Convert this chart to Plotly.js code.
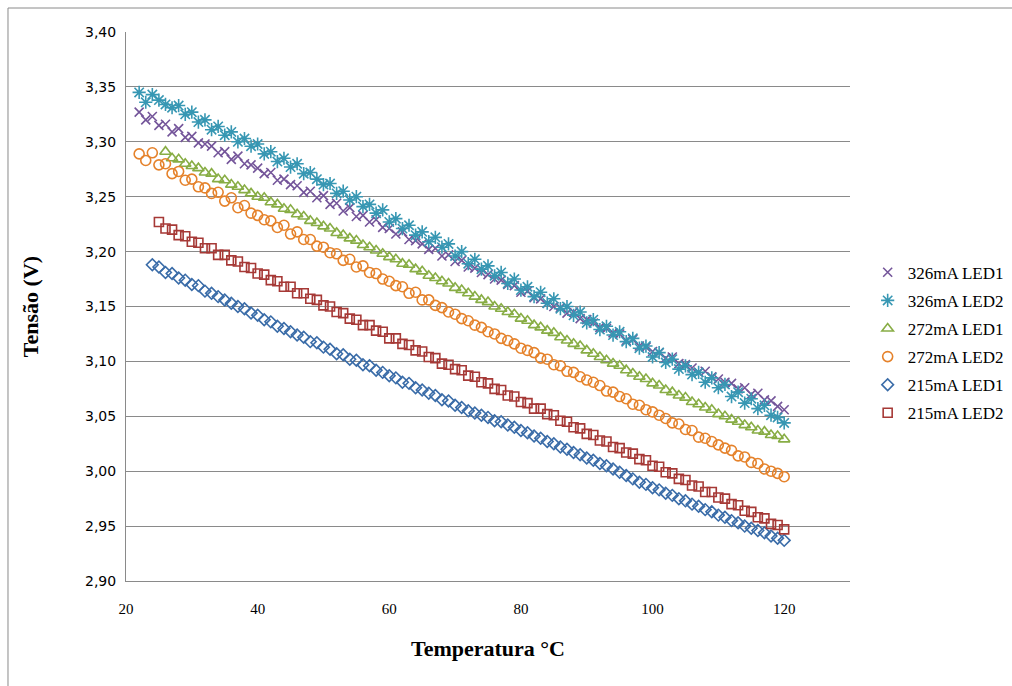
<!DOCTYPE html>
<html>
<head>
<meta charset="utf-8">
<script src="https://cdn.plot.ly/plotly-3.0.1.min.js"></script>
<style>html,body{margin:0;padding:0;background:#fff;}#chart{width:1012px;height:686px;}</style>
</head>
<body>
<div id="chart"></div>
<script>
// Temperature readings (°C)
const temperatura = [22,23,24,25,26,27,28,29,30,31,32,33,34,35,36,37,38,39,40,41,42,43,44,45,46,47,48,49,50,51,52,53,54,55,56,57,58,59,60,61,62,63,64,65,66,67,68,69,70,71,72,73,74,75,76,77,78,79,80,81,82,83,84,85,86,87,88,89,90,91,92,93,94,95,96,97,98,99,100,101,102,103,104,105,106,107,108,109,110,111,112,113,114,115,116,117,118,119,120];
const tempBlue = temperatura.slice(2);   // from 24 °C
const tempRed = temperatura.slice(3);    // from 25 °C
const tempGreen = temperatura.slice(4);  // from 26 °C

// Voltages (V)
const v326LED1 = [3.327,3.320,3.323,3.315,3.316,3.309,3.312,3.304,3.305,3.299,
  3.298,3.296,3.290,3.291,3.284,3.287,3.280,3.279,3.276,3.271,
  3.272,3.265,3.266,3.261,3.260,3.254,3.255,3.249,3.251,3.243,
  3.244,3.237,3.240,3.232,3.233,3.227,3.229,3.222,3.221,3.216,
  3.218,3.211,3.210,3.207,3.202,3.203,3.196,3.197,3.191,3.192,
  3.186,3.185,3.181,3.179,3.175,3.174,3.170,3.169,3.163,3.164,
  3.158,3.157,3.153,3.150,3.149,3.144,3.145,3.139,3.138,3.135,
  3.131,3.130,3.126,3.125,3.119,3.120,3.114,3.113,3.109,3.108,
  3.103,3.104,3.098,3.097,3.094,3.090,3.091,3.086,3.084,3.081,
  3.080,3.075,3.076,3.070,3.071,3.065,3.064,3.059,3.056];
const v326LED2 = [3.345,3.336,3.343,3.338,3.334,3.331,3.333,3.325,3.327,3.318,
  3.320,3.311,3.314,3.306,3.309,3.300,3.303,3.296,3.298,3.289,
  3.291,3.282,3.285,3.277,3.280,3.271,3.272,3.266,3.261,3.262,
  3.253,3.255,3.247,3.250,3.241,3.243,3.235,3.238,3.227,3.230,
  3.221,3.224,3.215,3.218,3.209,3.213,3.204,3.207,3.196,3.200,
  3.189,3.193,3.184,3.187,3.178,3.181,3.171,3.175,3.165,3.168,
  3.159,3.163,3.153,3.157,3.148,3.150,3.142,3.145,3.135,3.138,
  3.129,3.132,3.124,3.127,3.118,3.121,3.112,3.114,3.104,3.108,
  3.099,3.102,3.093,3.096,3.088,3.090,3.081,3.085,3.076,3.079,
  3.068,3.072,3.062,3.066,3.057,3.060,3.051,3.049,3.044];
const v272LED1 = [3.291,3.285,3.284,3.280,3.278,3.276,3.272,3.271,3.266,3.265,
  3.261,3.259,3.256,3.253,3.250,3.249,3.245,3.243,3.239,3.238,
  3.234,3.232,3.228,3.226,3.223,3.221,3.217,3.215,3.212,3.210,
  3.206,3.204,3.201,3.198,3.195,3.193,3.189,3.188,3.184,3.182,
  3.178,3.176,3.173,3.171,3.167,3.165,3.162,3.159,3.156,3.154,
  3.150,3.148,3.145,3.143,3.139,3.137,3.133,3.131,3.128,3.126,
  3.122,3.119,3.116,3.114,3.110,3.107,3.104,3.101,3.098,3.096,
  3.092,3.089,3.086,3.084,3.080,3.078,3.074,3.072,3.069,3.067,
  3.063,3.061,3.058,3.056,3.052,3.050,3.047,3.045,3.042,3.040,
  3.037,3.036,3.033,3.032,3.029];
const v272LED2 = [3.289,3.283,3.290,3.279,3.280,3.271,3.273,3.265,3.266,3.259,
  3.258,3.253,3.254,3.246,3.249,3.240,3.242,3.235,3.233,3.229,
  3.228,3.222,3.224,3.216,3.218,3.211,3.211,3.205,3.204,3.199,
  3.198,3.192,3.193,3.186,3.187,3.181,3.180,3.175,3.173,3.169,
  3.168,3.162,3.163,3.156,3.156,3.151,3.149,3.145,3.143,3.139,
  3.137,3.133,3.131,3.127,3.125,3.121,3.119,3.116,3.112,3.110,
  3.108,3.103,3.102,3.097,3.096,3.091,3.090,3.086,3.083,3.081,
  3.078,3.073,3.072,3.068,3.066,3.061,3.060,3.056,3.054,3.051,
  3.048,3.044,3.043,3.038,3.037,3.031,3.030,3.027,3.024,3.021,
  3.019,3.014,3.013,3.008,3.007,3.002,3.000,2.998,2.995];
const v215LED1 = [3.188,3.186,3.181,3.180,3.176,3.174,3.170,3.169,3.164,3.162,
  3.159,3.156,3.153,3.150,3.148,3.144,3.142,3.138,3.136,3.132,
  3.130,3.127,3.124,3.122,3.118,3.117,3.113,3.111,3.107,3.106,
  3.102,3.101,3.097,3.096,3.092,3.090,3.087,3.085,3.081,3.080,
  3.076,3.074,3.071,3.069,3.065,3.064,3.060,3.058,3.055,3.053,
  3.051,3.049,3.046,3.045,3.042,3.040,3.037,3.035,3.032,3.030,
  3.027,3.025,3.022,3.020,3.017,3.015,3.012,3.010,3.007,3.005,
  3.002,2.999,2.996,2.993,2.990,2.988,2.985,2.983,2.980,2.978,
  2.975,2.973,2.970,2.968,2.965,2.963,2.960,2.958,2.955,2.953,
  2.950,2.948,2.946,2.944,2.941,2.939,2.937];
const v215LED2 = [3.227,3.221,3.220,3.215,3.214,3.209,3.208,3.203,3.203,3.197,
  3.197,3.192,3.191,3.186,3.185,3.180,3.179,3.174,3.173,3.168,
  3.168,3.162,3.162,3.157,3.156,3.151,3.150,3.145,3.144,3.139,
  3.138,3.133,3.133,3.128,3.127,3.121,3.121,3.116,3.115,3.110,
  3.109,3.104,3.103,3.098,3.097,3.093,3.092,3.087,3.086,3.081,
  3.080,3.075,3.074,3.069,3.068,3.063,3.062,3.057,3.057,3.052,
  3.051,3.046,3.045,3.040,3.039,3.034,3.033,3.028,3.027,3.022,
  3.021,3.017,3.016,3.011,3.010,3.005,3.004,2.999,2.998,2.993,
  2.992,2.987,2.986,2.981,2.981,2.976,2.975,2.970,2.969,2.964,
  2.963,2.958,2.957,2.952,2.951,2.947];

const seriesNames = ["326mA LED1","326mA LED2","272mA LED1","272mA LED2","215mA LED1","215mA LED2"];
const xTicks = [20,40,60,80,100,120];

const styles = [
  {color:"#74559A", symbol:"x-thin-open", size:9},
  {color:"#3797B3", symbol:"asterisk-open", size:11},
  {color:"#88AD45", symbol:"triangle-up-open", size:10},
  {color:"#E5822B", symbol:"circle-open", size:10},
  {color:"#3A6CA8", symbol:"diamond-open", size:9},
  {color:"#A63936", symbol:"square-open", size:9}
];
const xs = [temperatura, temperatura, tempGreen, temperatura, tempBlue, tempRed];
const ys = [v326LED1, v326LED2, v272LED1, v272LED2, v215LED1, v215LED2];

const traces = seriesNames.map((n,i)=>({
  type:"scatter", mode:"markers", name:n, x:xs[i], y:ys[i],
  legendgroup:"g"+i,
  marker:{symbol:styles[i].symbol, size:styles[i].size, color:styles[i].color,
          line:{color:styles[i].color, width:1.6}}
}));

const layout = {
  width:1012, height:686,
  margin:{l:126, r:162, t:32, b:105, autoexpand:false},
  paper_bgcolor:"#fff", plot_bgcolor:"#fff",
  separators:", ",
  showlegend:true,
  legend:{x:1.0244, xanchor:"left", y:0.434, yanchor:"middle",
          font:{family:"Liberation Serif, serif", size:17, color:"#000"},
          tracegroupgap:3, bgcolor:"rgba(0,0,0,0)"},
  xaxis:{range:[20,130], tickvals:xTicks, ticktext:xTicks.map(String),
         showgrid:false, zeroline:false, showline:true, linecolor:"#8a8a8a", linewidth:1,
         ticks:"", ticklabelstandoff:14,
         tickfont:{family:"Liberation Serif, serif", size:15, color:"#000"},
         title:{text:"Temperatura °C", font:{family:"Liberation Serif, serif", size:22, color:"#000", weight:"bold"}, standoff:24}},
  yaxis:{range:[2.90,3.40], dtick:0.05, tick0:2.90, tickformat:".2f",
         showgrid:true, gridcolor:"#8a8a8a", gridwidth:1,
         zeroline:false, showline:true, linecolor:"#8a8a8a", linewidth:1,
         ticks:"", ticklabelstandoff:6,
         tickfont:{family:"DejaVu Sans, sans-serif", size:14, color:"#000"},
         title:{text:"Tensão (V)", font:{family:"Liberation Serif, serif", size:22, color:"#000", weight:"bold"}, standoff:40}},
  shapes:[{type:"rect", xref:"paper", yref:"paper", x0:-0.163, x1:1.4, y0:-0.4, y1:1.0437,
           line:{color:"#8a8a8a", width:1}, fillcolor:"rgba(0,0,0,0)", layer:"below"}]
};

Plotly.newPlot("chart", traces, layout, {displayModeBar:false, staticPlot:true});
</script>
</body>
</html>
